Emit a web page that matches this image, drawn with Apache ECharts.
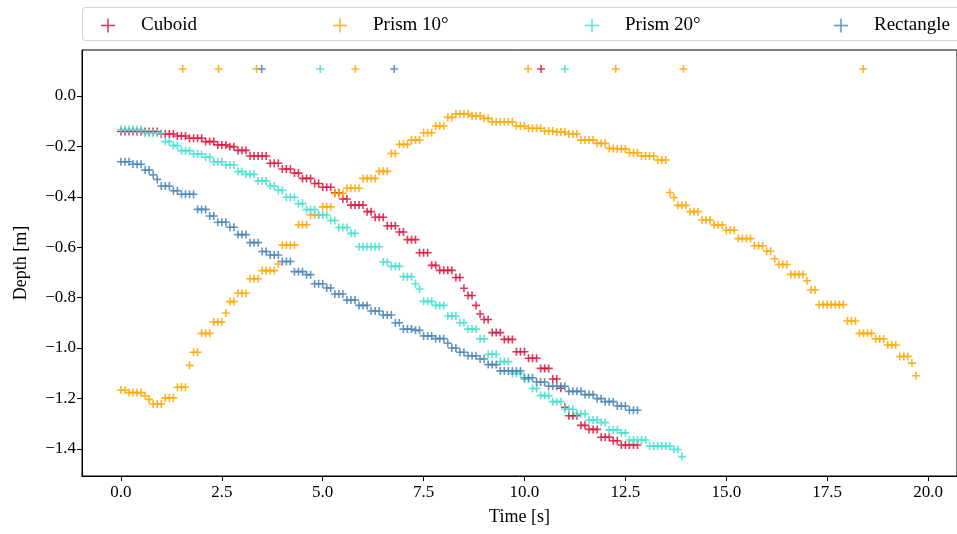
<!DOCTYPE html>
<html>
<head>
<meta charset="utf-8">
<script src="https://cdn.jsdelivr.net/npm/echarts@6/dist/echarts.min.js"></script>
<style>
  html, body { margin: 0; padding: 0; background: #ffffff; }
  #chart { width: 957px; height: 534px; }
</style>
</head>
<body>
<div id="chart"></div>
<script>
// Depth of each body over time: [time (s), depth (m)]
const seriesNames = ['Cuboid', 'Prism 10°', 'Prism 20°', 'Rectangle'];
const seriesColors = ['#DC143C', '#FFA500', '#40E0D0', '#4682B4'];

const cuboid = [
  [0.0,-0.141],[0.1,-0.141],[0.2,-0.141],[0.3,-0.141],[0.4,-0.141],[0.5,-0.141],[0.6,-0.141],[0.7,-0.141],[0.8,-0.141],[0.9,-0.141],
  [1.0,-0.151],[1.1,-0.151],[1.2,-0.151],[1.3,-0.151],
  [1.4,-0.159],[1.5,-0.159],[1.6,-0.159],
  [1.7,-0.168],[1.8,-0.168],[1.9,-0.168],[2.0,-0.168],
  [2.1,-0.181],[2.2,-0.181],[2.3,-0.181],
  [2.4,-0.194],[2.5,-0.194],[2.6,-0.194],
  [2.7,-0.201],[2.8,-0.201],
  [2.9,-0.216],[3.0,-0.216],[3.1,-0.216],
  [3.2,-0.238],[3.3,-0.238],[3.4,-0.238],[3.5,-0.238],[3.6,-0.238],
  [3.7,-0.267],[3.8,-0.267],[3.9,-0.267],
  [4.0,-0.290],[4.1,-0.290],[4.2,-0.290],
  [4.3,-0.306],[4.4,-0.306],
  [4.5,-0.327],[4.6,-0.327],[4.7,-0.327],
  [4.8,-0.347],[4.9,-0.347],
  [5.0,-0.362],[5.1,-0.362],[5.2,-0.362],
  [5.3,-0.384],[5.4,-0.384],
  [5.5,-0.409],[5.6,-0.409],
  [5.7,-0.433],[5.8,-0.433],[5.9,-0.433],[6.0,-0.433],
  [6.1,-0.459],[6.2,-0.459],
  [6.3,-0.481],[6.4,-0.481],[6.5,-0.481],
  [6.6,-0.515],[6.7,-0.515],[6.8,-0.515],
  [6.9,-0.540],[7.0,-0.540],
  [7.1,-0.570],[7.2,-0.570],[7.3,-0.570],
  [7.4,-0.622],[7.5,-0.622],[7.6,-0.622],
  [7.7,-0.672],[7.8,-0.672],
  [7.9,-0.692],[8.0,-0.692],[8.1,-0.692],[8.2,-0.692],
  [8.3,-0.720],[8.4,-0.720],
  [8.5,-0.763],
  [8.6,-0.792],[8.7,-0.792],
  [8.8,-0.831],
  [8.9,-0.865],
  [9.0,-0.887],[9.1,-0.887],
  [9.2,-0.939],[9.3,-0.939],[9.4,-0.939],
  [9.5,-0.966],[9.6,-0.966],[9.7,-0.966],
  [9.8,-1.015],[9.9,-1.015],[10.0,-1.015],
  [10.1,-1.041],[10.2,-1.041],[10.3,-1.041],
  [10.4,-1.081],[10.5,-1.081],[10.6,-1.081],
  [10.7,-1.123],[10.8,-1.123],
  [10.9,-1.160],
  [11.0,-1.235],
  [11.1,-1.269],[11.2,-1.269],[11.3,-1.269],
  [11.4,-1.307],[11.5,-1.307],
  [11.6,-1.323],[11.7,-1.323],[11.8,-1.323],
  [11.9,-1.354],[12.0,-1.354],[12.1,-1.354],
  [12.2,-1.368],[12.3,-1.368],
  [12.4,-1.385],[12.5,-1.385],[12.6,-1.385],[12.7,-1.385],[12.8,-1.385],
  [10.41,0.107]
];

const prism10 = [
  [0.0,-1.167],[0.1,-1.167],
  [0.2,-1.177],[0.3,-1.177],[0.4,-1.177],[0.5,-1.177],
  [0.6,-1.190],
  [0.7,-1.204],
  [0.8,-1.222],[0.9,-1.222],[1.0,-1.222],
  [1.1,-1.198],[1.2,-1.198],[1.3,-1.198],
  [1.4,-1.156],[1.5,-1.156],[1.6,-1.156],
  [1.7,-1.069],
  [1.8,-1.017],[1.9,-1.017],
  [2.0,-0.942],[2.1,-0.942],[2.2,-0.942],
  [2.3,-0.897],[2.4,-0.897],[2.5,-0.897],
  [2.6,-0.861],
  [2.7,-0.816],[2.8,-0.816],
  [2.9,-0.783],[3.0,-0.783],[3.1,-0.783],
  [3.2,-0.725],[3.3,-0.725],[3.4,-0.725],
  [3.5,-0.693],[3.6,-0.693],[3.7,-0.693],[3.8,-0.693],
  [3.9,-0.667],
  [4.0,-0.592],[4.1,-0.592],[4.2,-0.592],[4.3,-0.592],
  [4.4,-0.511],[4.5,-0.511],[4.6,-0.511],
  [4.7,-0.472],[4.8,-0.472],[4.9,-0.472],
  [5.0,-0.440],[5.1,-0.440],[5.2,-0.440],
  [5.3,-0.387],[5.4,-0.387],[5.5,-0.387],
  [5.6,-0.366],[5.7,-0.366],[5.8,-0.366],[5.9,-0.366],
  [6.0,-0.327],[6.1,-0.327],[6.2,-0.327],[6.3,-0.327],
  [6.4,-0.299],[6.5,-0.299],[6.6,-0.299],
  [6.7,-0.228],[6.8,-0.228],
  [6.9,-0.192],[7.0,-0.192],[7.1,-0.192],
  [7.2,-0.175],[7.3,-0.175],[7.4,-0.175],
  [7.5,-0.146],[7.6,-0.146],[7.7,-0.146],
  [7.8,-0.119],[7.9,-0.119],[8.0,-0.119],
  [8.1,-0.085],[8.2,-0.085],
  [8.3,-0.071],[8.4,-0.071],[8.5,-0.071],[8.6,-0.071],
  [8.7,-0.079],[8.8,-0.079],[8.9,-0.079],
  [9.0,-0.089],[9.1,-0.089],
  [9.2,-0.102],[9.3,-0.102],[9.4,-0.102],[9.5,-0.102],[9.6,-0.102],[9.7,-0.102],
  [9.8,-0.119],[9.9,-0.119],[10.0,-0.119],
  [10.1,-0.128],[10.2,-0.128],[10.3,-0.128],[10.4,-0.128],
  [10.5,-0.139],[10.6,-0.139],[10.7,-0.139],
  [10.8,-0.143],[10.9,-0.143],[11.0,-0.143],
  [11.1,-0.151],[11.2,-0.151],[11.3,-0.151],
  [11.4,-0.175],[11.5,-0.175],[11.6,-0.175],[11.7,-0.175],
  [11.8,-0.188],[11.9,-0.188],[12.0,-0.188],
  [12.1,-0.208],[12.2,-0.208],
  [12.3,-0.210],[12.4,-0.210],[12.5,-0.210],
  [12.6,-0.225],[12.7,-0.225],[12.8,-0.225],
  [12.9,-0.238],[13.0,-0.238],[13.1,-0.238],[13.2,-0.238],
  [13.3,-0.254],[13.4,-0.254],[13.5,-0.254],
  [13.6,-0.383],
  [13.7,-0.403],
  [13.8,-0.434],[13.9,-0.434],[14.0,-0.434],
  [14.1,-0.459],[14.2,-0.459],[14.3,-0.459],
  [14.4,-0.492],[14.5,-0.492],[14.6,-0.492],
  [14.7,-0.512],[14.8,-0.512],[14.9,-0.512],
  [15.0,-0.533],[15.1,-0.533],[15.2,-0.533],
  [15.3,-0.566],[15.4,-0.566],[15.5,-0.566],[15.6,-0.566],
  [15.7,-0.594],[15.8,-0.594],[15.9,-0.594],
  [16.0,-0.616],[16.1,-0.616],
  [16.2,-0.646],
  [16.3,-0.669],[16.4,-0.669],[16.5,-0.669],
  [16.6,-0.708],[16.7,-0.708],[16.8,-0.708],[16.9,-0.708],
  [17.0,-0.733],
  [17.1,-0.770],[17.2,-0.770],
  [17.3,-0.828],[17.4,-0.828],[17.5,-0.828],[17.6,-0.828],[17.7,-0.828],[17.8,-0.828],[17.9,-0.828],
  [18.0,-0.893],[18.1,-0.893],[18.2,-0.893],
  [18.3,-0.942],[18.4,-0.942],[18.5,-0.942],[18.6,-0.942],
  [18.7,-0.964],[18.8,-0.964],[18.9,-0.964],
  [19.0,-0.988],[19.1,-0.988],[19.2,-0.988],
  [19.3,-1.034],[19.4,-1.034],[19.5,-1.034],
  [19.6,-1.060],
  [19.7,-1.110],
  [1.53,0.107],[2.42,0.107],[3.36,0.107],[5.81,0.107],[10.09,0.107],[12.26,0.107],[13.94,0.107],[18.39,0.107]
];

const prism20 = [
  [0.0,-0.133],[0.1,-0.133],[0.2,-0.133],[0.3,-0.133],[0.4,-0.133],[0.5,-0.133],
  [0.6,-0.148],[0.7,-0.148],[0.8,-0.148],[0.9,-0.148],[1.0,-0.148],
  [1.1,-0.181],[1.2,-0.181],
  [1.3,-0.197],[1.4,-0.197],
  [1.5,-0.217],[1.6,-0.217],[1.7,-0.217],
  [1.8,-0.230],[1.9,-0.230],[2.0,-0.230],
  [2.1,-0.243],[2.2,-0.243],
  [2.3,-0.261],[2.4,-0.261],[2.5,-0.261],
  [2.6,-0.274],[2.7,-0.274],[2.8,-0.274],
  [2.9,-0.300],[3.0,-0.300],
  [3.1,-0.311],[3.2,-0.311],[3.3,-0.311],
  [3.4,-0.337],[3.5,-0.337],[3.6,-0.337],
  [3.7,-0.357],[3.8,-0.357],
  [3.9,-0.374],[4.0,-0.374],
  [4.1,-0.402],[4.2,-0.402],[4.3,-0.402],
  [4.4,-0.427],[4.5,-0.427],
  [4.6,-0.451],[4.7,-0.451],[4.8,-0.451],
  [4.9,-0.472],[5.0,-0.472],[5.1,-0.472],
  [5.2,-0.494],[5.3,-0.494],
  [5.4,-0.522],[5.5,-0.522],[5.6,-0.522],
  [5.7,-0.545],[5.8,-0.545],
  [5.9,-0.598],[6.0,-0.598],[6.1,-0.598],[6.2,-0.598],[6.3,-0.598],[6.4,-0.598],
  [6.5,-0.659],[6.6,-0.659],
  [6.7,-0.676],[6.8,-0.676],[6.9,-0.676],
  [7.0,-0.717],[7.1,-0.717],[7.2,-0.717],
  [7.3,-0.745],
  [7.4,-0.766],
  [7.5,-0.815],[7.6,-0.815],[7.7,-0.815],
  [7.8,-0.831],[7.9,-0.831],[8.0,-0.831],
  [8.1,-0.873],[8.2,-0.873],[8.3,-0.873],
  [8.4,-0.900],[8.5,-0.900],
  [8.6,-0.925],[8.7,-0.925],[8.8,-0.925],
  [8.9,-0.964],[9.0,-0.964],
  [9.1,-1.025],[9.2,-1.025],[9.3,-1.025],
  [9.4,-1.054],[9.5,-1.054],[9.6,-1.054],
  [9.7,-1.101],[9.8,-1.101],[9.9,-1.101],
  [10.0,-1.124],[10.1,-1.124],
  [10.2,-1.161],[10.3,-1.161],
  [10.4,-1.189],[10.5,-1.189],[10.6,-1.189],
  [10.7,-1.213],[10.8,-1.213],[10.9,-1.213],
  [11.0,-1.243],[11.1,-1.243],[11.2,-1.243],
  [11.3,-1.261],[11.4,-1.261],[11.5,-1.261],
  [11.6,-1.286],[11.7,-1.286],[11.8,-1.286],
  [11.9,-1.296],[12.0,-1.296],
  [12.1,-1.325],[12.2,-1.325],[12.3,-1.325],
  [12.4,-1.337],[12.5,-1.337],
  [12.6,-1.365],[12.7,-1.365],[12.8,-1.365],[12.9,-1.365],[13.0,-1.365],
  [13.1,-1.389],[13.2,-1.389],[13.3,-1.389],[13.4,-1.389],[13.5,-1.389],[13.6,-1.389],
  [13.7,-1.403],[13.8,-1.403],
  [13.9,-1.431],
  [4.94,0.107],[11.0,0.107]
];

const rectangle = [
  [0.0,-0.261],[0.1,-0.261],[0.2,-0.261],
  [0.3,-0.271],[0.4,-0.271],[0.5,-0.271],
  [0.6,-0.294],[0.7,-0.294],
  [0.8,-0.313],
  [0.9,-0.331],
  [1.0,-0.357],[1.1,-0.357],[1.2,-0.357],
  [1.3,-0.376],[1.4,-0.376],
  [1.5,-0.390],[1.6,-0.390],[1.7,-0.390],[1.8,-0.390],
  [1.9,-0.450],[2.0,-0.450],[2.1,-0.450],
  [2.2,-0.476],[2.3,-0.476],
  [2.4,-0.501],[2.5,-0.501],[2.6,-0.501],
  [2.7,-0.521],[2.8,-0.521],
  [2.9,-0.550],[3.0,-0.550],[3.1,-0.550],
  [3.2,-0.582],[3.3,-0.582],[3.4,-0.582],
  [3.5,-0.617],[3.6,-0.617],
  [3.7,-0.631],[3.8,-0.631],[3.9,-0.631],
  [4.0,-0.657],[4.1,-0.657],[4.2,-0.657],
  [4.3,-0.697],[4.4,-0.697],[4.5,-0.697],
  [4.6,-0.709],[4.7,-0.709],
  [4.8,-0.745],[4.9,-0.745],[5.0,-0.745],
  [5.1,-0.762],[5.2,-0.762],
  [5.3,-0.786],[5.4,-0.786],[5.5,-0.786],
  [5.6,-0.810],[5.7,-0.810],[5.8,-0.810],
  [5.9,-0.831],[6.0,-0.831],[6.1,-0.831],
  [6.2,-0.853],[6.3,-0.853],[6.4,-0.853],
  [6.5,-0.869],[6.6,-0.869],[6.7,-0.869],
  [6.8,-0.900],[6.9,-0.900],
  [7.0,-0.925],[7.1,-0.925],[7.2,-0.925],
  [7.3,-0.930],[7.4,-0.930],
  [7.5,-0.952],[7.6,-0.952],[7.7,-0.952],
  [7.8,-0.963],[7.9,-0.963],[8.0,-0.963],
  [8.1,-0.981],
  [8.2,-1.000],[8.3,-1.000],
  [8.4,-1.017],[8.5,-1.017],
  [8.6,-1.031],[8.7,-1.031],[8.8,-1.031],
  [8.9,-1.044],[9.0,-1.044],
  [9.1,-1.066],[9.2,-1.066],[9.3,-1.066],
  [9.4,-1.091],[9.5,-1.091],[9.6,-1.091],[9.7,-1.091],[9.8,-1.091],[9.9,-1.091],
  [10.0,-1.118],[10.1,-1.118],[10.2,-1.118],
  [10.3,-1.135],[10.4,-1.135],[10.5,-1.135],
  [10.6,-1.152],[10.7,-1.152],[10.8,-1.152],[10.9,-1.152],[11.0,-1.152],
  [11.1,-1.172],[11.2,-1.172],[11.3,-1.172],[11.4,-1.172],
  [11.5,-1.185],[11.6,-1.185],[11.7,-1.185],
  [11.8,-1.201],[11.9,-1.201],
  [12.0,-1.213],[12.1,-1.213],[12.2,-1.213],
  [12.3,-1.230],[12.4,-1.230],[12.5,-1.230],
  [12.6,-1.247],[12.7,-1.247],[12.8,-1.247],
  [3.49,0.107],[6.77,0.107]
];

const xTicks = [0, 2.5, 5, 7.5, 10, 12.5, 15, 17.5, 20];
const yTicks = [-1.4, -1.2, -1.0, -0.8, -0.6, -0.4, -0.2, 0.0];

const seriesData = [cuboid, prism10, prism20, rectangle];

// thin "+" markers for the points and for the legend keys
const PLUS = 'path://M0,4H10V6H0Z M4,0H6V10H4Z';
const PLUS_KEY = 'path://M0,4.45H10V5.55H0Z M4.45,0H5.55V10H4.45Z';
const FONT = '"Liberation Serif", "DejaVu Serif", serif';
// legend key centres: 108, 340, 592, 841; text starts 33px to the right
const legendLeft = [101, 333, 585, 834];

const fmtTick = v => {
  const s = (Math.abs(v) < 1e-9 ? 0 : v).toFixed(1);
  return s.replace('-', '\u2212');
};

const chart = echarts.init(document.getElementById('chart'), null, { renderer: 'canvas' });

chart.setOption({
  animation: false,
  backgroundColor: '#ffffff',
  graphic: [{
    type: 'rect',
    shape: { x: 82.5, y: 7.5, width: 880, height: 33, r: 3 },
    style: { fill: '#ffffff', stroke: '#d3d3d3', lineWidth: 1 },
    z: -1,
    silent: true
  }],
  legend: seriesNames.map((name, i) => ({
    data: [name],
    left: legendLeft[i],
    top: 16,
    padding: 0,
    itemWidth: 14,
    itemHeight: 14,
    icon: PLUS_KEY,
    selectedMode: false,
    textStyle: { fontFamily: FONT, fontSize: 19, color: '#000', padding: [0, 0, 0, 21] }
  })),
  grid: {
    left: 82, top: 50, right: -2, bottom: 58,
    show: true, borderColor: '#000', borderWidth: 1,
    containLabel: false
  },
  xAxis: {
    type: 'value',
    min: -0.964, max: 20.717,
    axisLine: { show: true, onZero: false, lineStyle: { color: '#000', width: 1 } },
    splitLine: { show: false },
    axisTick: { show: true, customValues: xTicks, length: 5, lineStyle: { color: '#000', width: 1 } },
    axisLabel: {
      customValues: xTicks, formatter: fmtTick, margin: 8,
      fontFamily: FONT, fontSize: 17, color: '#000'
    },
    name: 'Time [s]', nameLocation: 'middle', nameGap: 32,
    nameTextStyle: { fontFamily: FONT, fontSize: 18, color: '#000' }
  },
  yAxis: {
    type: 'value',
    min: -1.508, max: 0.1825,
    axisLine: { show: true, onZero: false, lineStyle: { color: '#000', width: 1 } },
    splitLine: { show: false },
    axisTick: { show: true, customValues: yTicks, length: 5, lineStyle: { color: '#000', width: 1 } },
    axisLabel: {
      customValues: yTicks, formatter: fmtTick, margin: 6,
      fontFamily: FONT, fontSize: 17, color: '#000'
    },
    name: 'Depth [m]', nameLocation: 'middle', nameGap: 52,
    nameTextStyle: { fontFamily: FONT, fontSize: 18, color: '#000' }
  },
  series: seriesNames.map((name, i) => ({
    name: name,
    type: 'scatter',
    data: seriesData[i],
    symbol: PLUS,
    symbolSize: 8,
    itemStyle: { color: seriesColors[i], opacity: 0.85 },
    emphasis: { disabled: true },
    silent: true
  }))
});
</script>
</body>
</html>
